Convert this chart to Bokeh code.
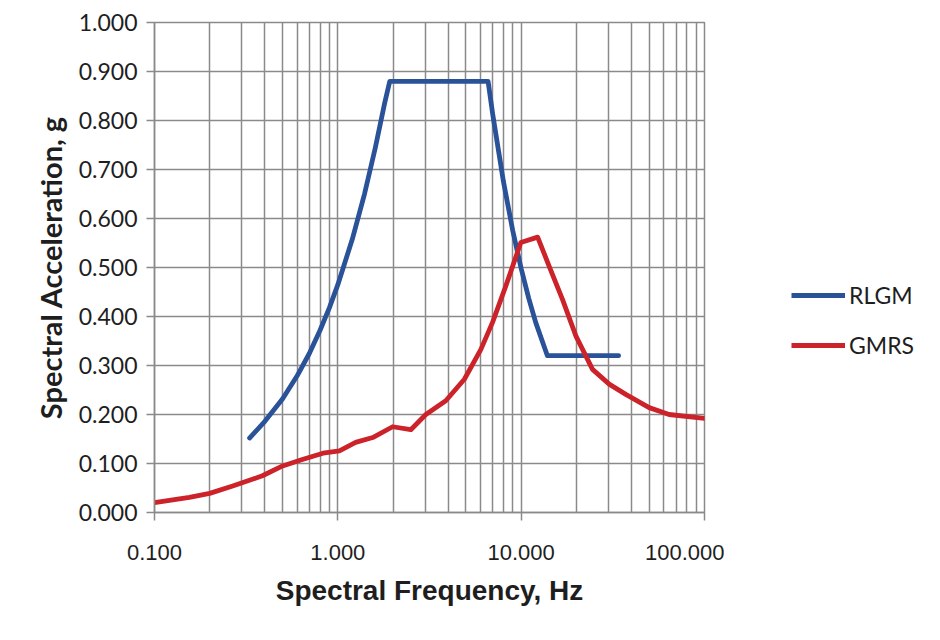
from bokeh.plotting import figure
from bokeh.layouts import row
from bokeh.models import FixedTicker, NumeralTickFormatter, Legend, LegendItem, Range1d
from bokeh.embed import file_html
from bokeh.resources import INLINE

# ---- data ----
rlgm_freq = [0.33, 0.40, 0.50, 0.60, 0.70, 0.80, 0.90, 1.0, 1.2, 1.4, 1.6, 1.8, 1.92,
             6.6, 7.0, 8.0, 9.0, 10.0, 11.0, 12.0, 13.9, 34.0]
rlgm_acc = [0.152, 0.186, 0.232, 0.279, 0.325, 0.372, 0.418, 0.465, 0.558, 0.651, 0.744, 0.835, 0.880,
            0.880, 0.812, 0.676, 0.575, 0.498, 0.437, 0.388, 0.320, 0.320]

gmrs_freq = [0.10, 0.155, 0.20, 0.267, 0.388, 0.50, 0.64, 0.83, 1.02, 1.25, 1.55, 1.99, 2.50, 3.02, 3.88,
             4.9, 6.03, 6.98, 8.26, 9.96, 12.3, 14.2, 16.8, 19.9, 24.5, 30.2, 37.2, 49.9, 64.1, 100.0]
gmrs_acc = [0.020, 0.031, 0.039, 0.054, 0.075, 0.095, 0.108, 0.121, 0.126, 0.143, 0.153, 0.175, 0.169, 0.200, 0.228,
            0.272, 0.333, 0.388, 0.463, 0.551, 0.562, 0.503, 0.435, 0.360, 0.292, 0.262, 0.241, 0.214, 0.200, 0.192]

x_major = [0.1, 1, 10, 100]
x_minor = [0.2, 0.3, 0.4, 0.5, 0.6, 0.7, 0.8, 0.9,
           2, 3, 4, 5, 6, 7, 8, 9,
           20, 30, 40, 50, 60, 70, 80, 90]
y_major = [0.0, 0.1, 0.2, 0.3, 0.4, 0.5, 0.6, 0.7, 0.8, 0.9, 1.0]

series_names = ["RLGM", "GMRS"]
series_colors = ["#2A5298", "#CC2229"]

# ---- main figure ----
p = figure(width=724, height=624, x_axis_type="log", output_backend="svg",
           toolbar_location=None, x_range=Range1d(0.1, 100), y_range=Range1d(0, 1.0),
           min_border_left=154, min_border_right=20, min_border_top=22, min_border_bottom=112)
p.background_fill_color = "white"
p.border_fill_color = "white"
p.outline_line_color = "#8A8A8A"
p.outline_line_width = 1.5

p.line(rlgm_freq, rlgm_acc, line_color=series_colors[0], line_width=4.8, line_join="round", line_cap="round")
p.line(gmrs_freq, gmrs_acc, line_color=series_colors[1], line_width=4.8, line_join="round", line_cap="round")

p.xaxis.ticker = FixedTicker(ticks=x_major, minor_ticks=x_minor)
p.yaxis.ticker = FixedTicker(ticks=y_major)
p.xaxis.formatter = NumeralTickFormatter(format="0.000")
p.yaxis.formatter = NumeralTickFormatter(format="0.000")

grid_col = "#8A8A8A"
p.xgrid.grid_line_color = grid_col
p.xgrid.grid_line_width = 1.5
p.xgrid.minor_grid_line_color = grid_col
p.xgrid.minor_grid_line_width = 1.5
p.ygrid.grid_line_color = grid_col
p.ygrid.grid_line_width = 1.5

for ax in (p.xaxis, p.yaxis):
    ax.axis_line_color = grid_col
    ax.axis_line_width = 1.5
    ax.major_tick_line_color = grid_col
    ax.major_tick_line_width = 1.5
    ax.major_tick_out = 8
    ax.major_tick_in = 0
    ax.minor_tick_line_color = None
    ax.major_label_text_color = "#1E1E1E"
    ax.axis_label_text_color = "#1E1E1E"

p.yaxis.major_label_text_font = "Lato"
p.yaxis.major_label_text_font_size = "23px"
p.yaxis.major_label_standoff = 9
p.xaxis.major_label_text_font = "Liberation Sans"
p.xaxis.major_label_text_font_size = "22px"
p.xaxis.major_label_standoff = 24

p.xaxis.axis_label = "Spectral Frequency, Hz"
p.xaxis.axis_label_text_font = "Liberation Sans"
p.xaxis.axis_label_text_font_style = "bold"
p.xaxis.axis_label_text_font_size = "28px"
p.xaxis.axis_label_standoff = 12

p.yaxis.axis_label = "Spectral Acceleration, g"
p.yaxis.axis_label_text_font = "Lato"
p.yaxis.axis_label_text_font_style = "bold"
p.yaxis.axis_label_text_font_size = "29px"
p.yaxis.axis_label_standoff = 8

# ---- legend panel (separate figure to the right; its view range hides the lines) ----
q = figure(width=200, height=624, output_backend="svg", toolbar_location=None,
           x_range=Range1d(1000, 1001), y_range=Range1d(0, 1),
           min_border_left=0, min_border_right=0, min_border_top=0, min_border_bottom=0)
q.axis.visible = False
q.grid.visible = False
q.outline_line_color = None
q.background_fill_color = "white"
q.border_fill_color = "white"
q1 = q.line(rlgm_freq, rlgm_acc, line_color=series_colors[0], line_width=4.8)
q2 = q.line(gmrs_freq, gmrs_acc, line_color=series_colors[1], line_width=4.8)

legend = Legend(items=[LegendItem(label=series_names[0], renderers=[q1]),
                       LegendItem(label=series_names[1], renderers=[q2])],
                location=(67, 153))
legend.border_line_color = None
legend.background_fill_alpha = 0
legend.margin = 0
legend.padding = 0
legend.label_text_font = "Lato"
legend.label_text_font_size = "23px"
legend.label_text_color = "#1E1E1E"
legend.glyph_width = 54
legend.glyph_height = 26
legend.label_height = 26
legend.spacing = 22
legend.label_standoff = 4
q.add_layout(legend, "center")

layout = row(p, q)
open("out.html", "w").write(file_html(layout, INLINE))
